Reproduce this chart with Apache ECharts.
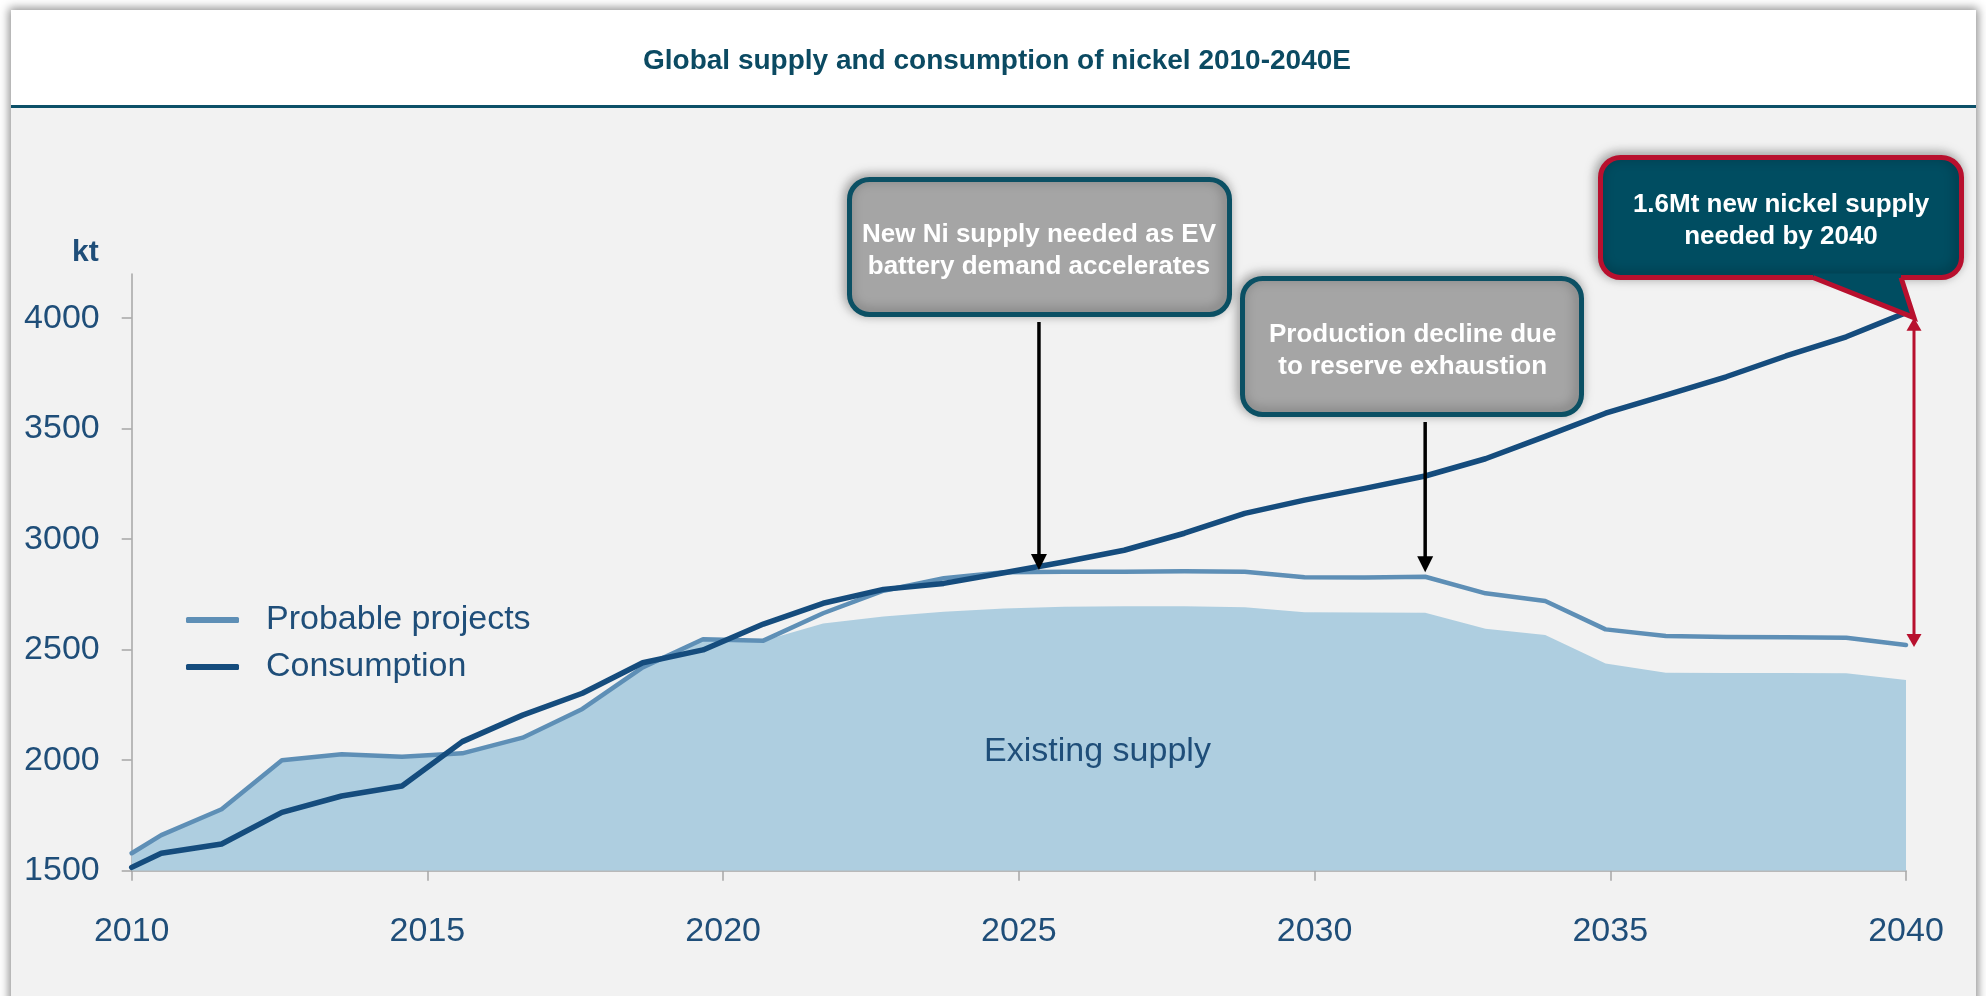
<!DOCTYPE html>
<html>
<head>
<meta charset="utf-8">
<title>Global supply and consumption of nickel 2010-2040E</title>
<script src="https://cdn.jsdelivr.net/npm/echarts@6.0.0/dist/echarts.min.js"></script>
<style>
  html, body { margin: 0; padding: 0; width: 1986px; height: 996px; background: #ffffff; overflow: hidden; }
  #panel { position: absolute; left: 11px; top: 10px; width: 1965px; height: 1000px; background: #F2F2F2;
           box-shadow: 0 0 9px 2px rgba(0, 0, 0, 0.45); }
  #header { position: absolute; left: 0; top: 0; width: 100%; height: 95px; background: #ffffff;
            border-bottom: 3px solid #0C5068; }
  #chart { position: absolute; left: 0; top: 0; width: 1986px; height: 996px; }
</style>
</head>
<body>
<div id="panel"><div id="header"></div></div>
<div id="chart"></div>
<script>
// Year positions of the plotted points (kt values below share this index)
const years = [2010, 2010.5, 2011.52, 2012.54, 2013.55, 2014.57, 2015.59, 2016.61, 2017.62, 2018.64,
  2019.66, 2020.68, 2021.69, 2022.71, 2023.73, 2024.75, 2025.76, 2026.78, 2027.8, 2028.82,
  2029.83, 2030.85, 2031.87, 2032.89, 2033.9, 2034.92, 2035.94, 2036.96, 2037.97, 2038.99, 2040];

// Nickel consumption, kt
const consumption = [1515, 1579, 1621, 1764, 1838, 1883, 2084, 2204, 2303, 2441,
  2499, 2616, 2710, 2773, 2800, 2848, 2897, 2950, 3027, 3117,
  3177, 3230, 3286, 3364, 3465, 3570, 3652, 3735, 3829, 3916, 4025];

// Existing supply plus probable projects, kt
const probable = [1579, 1661, 1778, 2000, 2027, 2016, 2031, 2102, 2232, 2420,
  2547, 2541, 2665, 2767, 2823, 2850, 2853, 2853, 2855, 2853,
  2828, 2827, 2830, 2755, 2720, 2592, 2562, 2558, 2556, 2554, 2521];

// Existing supply, kt
const existing = [1579, 1661, 1778, 2000, 2027, 2016, 2031, 2102, 2232, 2420,
  2547, 2541, 2618, 2650, 2672, 2686, 2694, 2697, 2697, 2692,
  2669, 2668, 2667, 2595, 2567, 2438, 2396, 2395, 2395, 2393, 2363];

const yTicks = [1500, 2000, 2500, 3000, 3500, 4000];

const titleText = 'Global supply and consumption of nickel 2010-2040E';
const seriesNames = ['Existing supply', 'Probable projects', 'Consumption'];
const notes = {
  ev: 'New Ni supply needed as EV\nbattery demand accelerates',
  decline: 'Production decline due\nto reserve exhaustion',
  gap: '1.6Mt new nickel supply\nneeded by 2040'
};

const FONT = '"Liberation Sans", Arial, sans-serif';
const TEXT_BLUE = '#1F4E79';
const AXIS_GREY = '#A6A6A6';
const C_EXIST = '#AECEE0';
const C_PROB = '#5E8FB6';
const C_CONS = '#154C7D';
const C_TEAL = '#0B5064';
const C_BUBBLE = '#004D61';
const C_RED = '#B8102E';

const pair = vals => years.map((y, i) => [y, vals[i]]);
const plain = v => String(v);

const chart = echarts.init(document.getElementById('chart'), null, { renderer: 'canvas' });

chart.setOption({
  animation: false,
  backgroundColor: 'transparent',
  textStyle: { fontFamily: FONT },
  title: {
    text: titleText,
    left: 997, top: 47, padding: 0, textAlign: 'center',
    textStyle: { fontSize: 28, fontWeight: 'bold', color: '#0B4A62', fontFamily: FONT }
  },
  legend: {
    data: [seriesNames[1], seriesNames[2]],
    orient: 'vertical', left: 181, top: 598,
    icon: 'roundRect', itemWidth: 53, itemHeight: 6, itemGap: 13,
    textStyle: { fontSize: 34, lineHeight: 34, color: TEXT_BLUE, padding: [0, 0, 0, 22], fontFamily: FONT }
  },
  grid: { left: 131.7, right: 80, top: 274, bottom: 125.3 },
  xAxis: {
    type: 'value', min: 2010, max: 2040, interval: 5,
    axisLine: { lineStyle: { color: AXIS_GREY, width: 1.5 } },
    axisTick: { show: true, length: 10, lineStyle: { color: AXIS_GREY, width: 1.5 } },
    axisLabel: { fontSize: 34, color: TEXT_BLUE, margin: 44, formatter: plain, fontFamily: FONT },
    splitLine: { show: false }
  },
  yAxis: {
    type: 'value', min: 1500, max: 4200, interval: 500,
    name: 'kt', nameLocation: 'end', nameGap: 21,
    nameTextStyle: { fontSize: 30, fontWeight: 'bold', color: TEXT_BLUE, align: 'right',
                     verticalAlign: 'middle', padding: [0, 33, 0, 0], fontFamily: FONT },
    axisLine: { show: true, lineStyle: { color: AXIS_GREY, width: 1.5 } },
    axisTick: { show: true, length: 10, customValues: yTicks, lineStyle: { color: AXIS_GREY, width: 1.5 } },
    axisLabel: { fontSize: 34, color: TEXT_BLUE, margin: 32, customValues: yTicks, formatter: plain, fontFamily: FONT },
    splitLine: { show: false }
  },
  series: [
    {
      name: seriesNames[0], type: 'line', data: pair(existing), symbol: 'none', z: 1,
      lineStyle: { width: 0 }, itemStyle: { color: C_EXIST },
      areaStyle: { color: C_EXIST, opacity: 1 }
    },
    {
      name: seriesNames[1], type: 'line', data: pair(probable), symbol: 'none', z: 2,
      lineStyle: { width: 4.5, color: C_PROB, join: 'round', cap: 'round' }, itemStyle: { color: C_PROB }
    },
    {
      name: seriesNames[2], type: 'line', data: pair(consumption), symbol: 'none', z: 3,
      lineStyle: { width: 5.5, color: C_CONS, join: 'round', cap: 'round' }, itemStyle: { color: C_CONS }
    }
  ]
});

// Annotations: callout boxes and arrows anchored to the data through the grid scales
const toPx = pt => chart.convertToPixel({ gridIndex: 0 }, pt);

function downArrow(x, y0, tipY, color, w, head) {
  return [
    { type: 'line', z: 20, shape: { x1: x, y1: y0, x2: x, y2: tipY - head + 2 },
      style: { stroke: color, lineWidth: w } },
    { type: 'polygon', z: 20, shape: { points: [[x - head / 2, tipY - head], [x + head / 2, tipY - head], [x, tipY]] },
      style: { fill: color } }
  ];
}

const SHADOW = { shadowBlur: 12, shadowColor: 'rgba(0,0,0,0.35)', shadowOffsetX: -2, shadowOffsetY: -2 };

function noteBox(x, y, w, h, text, cx, cy, fill, stroke) {
  return [
    { type: 'rect', z: 30, shape: { x: x, y: y, width: w, height: h, r: 20 },
      style: Object.assign({ fill: fill, stroke: stroke, lineWidth: 5 }, SHADOW) },
    { type: 'text', z: 33, style: { text: text, x: cx, y: cy, align: 'center', verticalAlign: 'middle',
      fill: '#ffffff', font: 'bold 26px ' + FONT, lineHeight: 32 } }
  ];
}

const evTip = toPx([2025.34, 2861]);
const declineTip = toPx([2031.87, 2851]);
const consEnd = toPx([years[years.length - 1], consumption[consumption.length - 1]]);
const probEnd = toPx([years[years.length - 1], probable[probable.length - 1]]);
const gapX = consEnd[0] + 8;
const gapTop = consEnd[1] + 5;
const gapBottom = probEnd[1] + 2;
const labelPos = toPx([2026.33, 2040]);

// speech bubble: rounded box plus a pointer that reaches the top of the red gap arrow
const bx0 = 1600.5, by0 = 157.5, bw = 361, bh = 120;
const by1 = by0 + bh;
const ptrL = 1813, ptrR = 1901;
const tip = [gapX, gapTop];

const graphics = [].concat(
  [{ type: 'text', z: 10, style: { text: seriesNames[0], x: labelPos[0], y: labelPos[1],
     align: 'center', verticalAlign: 'middle', fill: TEXT_BLUE, font: '34px ' + FONT } }],
  downArrow(evTip[0], 322, evTip[1], '#000000', 3.5, 16),
  downArrow(declineTip[0], 422, declineTip[1], '#000000', 3.5, 16),
  noteBox(849.5, 179.5, 380, 135, notes.ev, 1039, 250.5, '#A5A5A5', C_TEAL),
  noteBox(1242.5, 278.5, 339, 136, notes.decline, 1412.7, 350.5, '#A5A5A5', C_TEAL),
  [
    { type: 'line', z: 25, shape: { x1: gapX, y1: gapTop + 12, x2: gapX, y2: gapBottom - 12 },
      style: { stroke: C_RED, lineWidth: 3 } },
    { type: 'polygon', z: 25, shape: { points: [[gapX - 7.5, gapTop + 13], [gapX + 7.5, gapTop + 13], [gapX, gapTop]] },
      style: { fill: C_RED } },
    { type: 'polygon', z: 25, shape: { points: [[gapX - 7.5, gapBottom - 13], [gapX + 7.5, gapBottom - 13], [gapX, gapBottom]] },
      style: { fill: C_RED } },
    { type: 'rect', z: 30, shape: { x: bx0, y: by0, width: bw, height: bh, r: 20 },
      style: Object.assign({ fill: C_BUBBLE, stroke: C_RED, lineWidth: 5 }, SHADOW) },
    { type: 'polygon', z: 31, shape: { points: [[ptrL, by1 - 4], [ptrR, by1 - 4], [ptrR, by1], tip, [ptrL, by1]] },
      style: { fill: C_BUBBLE } },
    { type: 'polyline', z: 32, shape: { points: [[ptrL, by1], tip, [ptrR, by1]] },
      style: { stroke: C_RED, lineWidth: 5, lineJoin: 'miter', fill: null } },
    { type: 'text', z: 33, style: { text: notes.gap, x: 1781, y: 221, align: 'center', verticalAlign: 'middle',
      fill: '#ffffff', font: 'bold 26px ' + FONT, lineHeight: 32 } }
  ]
);

chart.setOption({ graphic: graphics });
</script>
</body>
</html>
